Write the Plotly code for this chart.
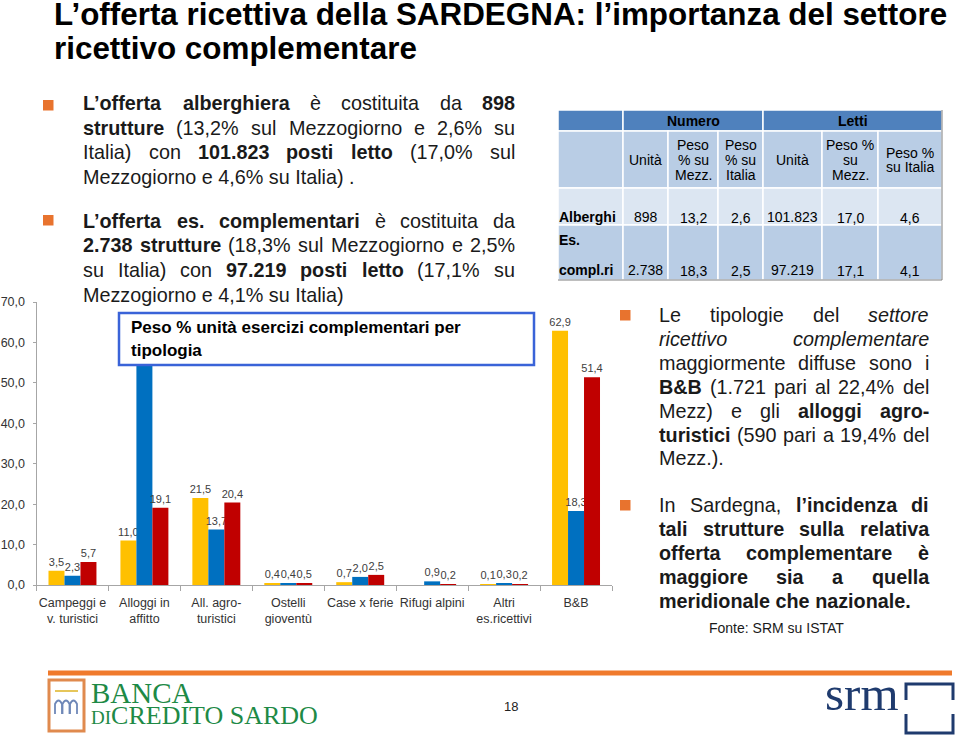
import plotly.graph_objects as go

W, H = 960, 740
def X(px): return px / W
def Y(py): return 1 - py / H

FONT = "Liberation Sans, Arial, sans-serif"
SERIF = "Liberation Serif, Times New Roman, serif"
TXT = "#1a1a1a"

# ---------------- chart data ----------------
categories = ["Campeggi e<br>v. turistici", "Alloggi in<br>affitto", "All. agro-<br>turistici",
              "Ostelli<br>gioventù", "Case x ferie", "Rifugi alpini", "Altri<br>es.ricettivi", "B&B"]
sardegna = [3.5, 11.0, 21.5, 0.4, 0.7, 0.0, 0.1, 62.9]
italia = [2.3, 62.1, 13.7, 0.4, 2.0, 0.9, 0.3, 18.3]
mezzogiorno = [5.7, 19.1, 20.4, 0.5, 2.5, 0.2, 0.2, 51.4]
series_names = ["Sardegna", "Italia", "Mezzogiorno"]
series_colors = ["#FFC000", "#0070C0", "#C00000"]
y_ticks = [0, 10, 20, 30, 40, 50, 60, 70]

# ---------------- table data ----------------
tab_rows = [["Alberghi"], ["Es.", "compl.ri"]]
tab_num_unita = ["898", "2.738"]
tab_num_mezz = [13.2, 18.3]
tab_num_italia = [2.6, 2.5]
tab_letti_unita = ["101.823", "97.219"]
tab_letti_mezz = [17.0, 17.1]
tab_letti_italia = [4.6, 4.1]
tab_groups = ["Numero", "Letti"]
tab_sub = [["Unità"], ["Peso", "% su", "Mezz."], ["Peso", "% su", "Italia"],
           ["Unità"], ["Peso %", "su", "Mezz."], ["Peso %", "su Italia"]]


def fmt(v):
    return f"{v:.1f}".replace(".", ",")


fig = go.Figure()
for name, vals, col in zip(series_names, [sardegna, italia, mezzogiorno], series_colors):
    fig.add_trace(go.Bar(
        x=categories, y=vals, name=name, marker_color=col, marker_line_width=0,
        text=[fmt(v) if v > 0 else "" for v in vals], textposition="outside",
        constraintext="none", cliponaxis=False,
        textfont=dict(size=11, color="#404040", family=FONT)))

fig.update_layout(
    width=W, height=H, margin=dict(l=0, r=0, t=0, b=0, pad=0, autoexpand=False),
    paper_bgcolor="white", plot_bgcolor="rgba(0,0,0,0)",
    showlegend=False, barmode="group", bargap=1/3, bargroupgap=0,
    separators=",.", font=dict(family=FONT, color=TXT),
    xaxis=dict(domain=[X(36.5), X(612)], showline=True, linecolor="#A6A6A6", linewidth=1,
               ticks="outside", tickson="boundaries", ticklen=5, tickcolor="#A6A6A6",
               tickangle=0, tickfont=dict(size=12.5, color="#333333"), showgrid=False,
               ticklabelstandoff=6, automargin=False),
    yaxis=dict(domain=[Y(585), Y(302)], range=[0, 70], tickvals=y_ticks, tickformat=".1f",
               showline=True, linecolor="#A6A6A6", ticks="outside", ticklen=3,
               tickcolor="#A6A6A6", tickfont=dict(size=12.5, color="#333333"),
               showgrid=False, zeroline=False, ticklabelstandoff=5, automargin=False),
)

shapes = []
ann = []


def text(x, y, t, size, color=TXT, xanchor="left", family=FONT, yanchor="middle"):
    ann.append(dict(x=X(x), y=Y(y), xref="paper", yref="paper", text=t, showarrow=False,
                    xanchor=xanchor, yanchor=yanchor, borderpad=0, borderwidth=0,
                    font=dict(size=size, color=color, family=family), align="left"))


# ---------------- font metrics (Arial / Liberation Sans) ----------------
REG = dict.fromkeys("0123456789", 556)
REG.update({' ': 278, '!': 278, '%': 889, '&': 667, '(': 333, ')': 333, ',': 278, '-': 333,
            '.': 278, '/': 278, ':': 278, ';': 278, '’': 222, 'è': 556, 'à': 556, 'ù': 556})
REG.update(dict(A=667, B=667, C=722, D=722, E=667, F=611, G=778, H=722, I=278, J=500, K=667,
                L=556, M=833, N=722, O=778, P=667, Q=778, R=722, S=667, T=611, U=722, V=667,
                W=944, X=667, Y=667, Z=611))
REG.update(dict(a=556, b=556, c=500, d=556, e=556, f=278, g=556, h=556, i=222, j=222, k=500,
                l=222, m=833, n=556, o=556, p=556, q=556, r=333, s=500, t=278, u=556, v=500,
                w=722, x=500, y=500, z=500))
BOLD = dict.fromkeys("0123456789", 556)
BOLD.update({' ': 278, '!': 333, '%': 889, '&': 722, '(': 333, ')': 333, ',': 278, '-': 333,
             '.': 278, '/': 278, ':': 333, ';': 333, '’': 278, 'è': 556, 'à': 556, 'ù': 611})
BOLD.update(dict(A=722, B=722, C=722, D=722, E=667, F=611, G=778, H=722, I=278, J=556, K=722,
                 L=611, M=833, N=722, O=778, P=667, Q=778, R=722, S=667, T=611, U=722, V=667,
                 W=944, X=667, Y=667, Z=611))
BOLD.update(dict(a=556, b=611, c=556, d=611, e=556, f=333, g=611, h=611, i=278, j=278, k=556,
                 l=278, m=889, n=611, o=611, p=611, q=611, r=389, s=556, t=333, u=611, v=556,
                 w=778, x=556, y=556, z=500))


def wwidth(word, style, size):
    tbl = BOLD if style == "b" else REG
    return sum(tbl.get(c, 556) for c in word) * size / 1000.0


def styled(word, style):
    if style == "b":
        return f"<b>{word}</b>"
    if style == "i":
        return f"<i>{word}</i>"
    return word


def paragraph(lines, x0, x1, y0, step, size):
    for k, segs in enumerate(lines):
        yc = y0 + k * step
        words = []
        for seg, st in segs:
            for w in seg.split(" "):
                if w:
                    words.append((w, st))
        last = (k == len(lines) - 1)
        if last or len(words) == 1:
            t = " ".join(styled(w, s) for w, s in words)
            text(x0, yc, t, size)
            continue
        widths = [wwidth(w, s, size) for w, s in words]
        gap = (x1 - x0 - sum(widths)) / (len(words) - 1)
        x = x0
        for (w, s), wd in zip(words, widths):
            text(x, yc, styled(w, s), size)
            x += wd + gap


BODY = 19.8
ORANGE = "#E8732E"

p1 = [[("L’offerta alberghiera", "b"), ("è costituita da", "r"), ("898", "b")],
      [("strutture", "b"), ("(13,2% sul Mezzogiorno e 2,6% su", "r")],
      [("Italia) con", "r"), ("101.823 posti letto", "b"), ("(17,0% sul", "r")],
      [("Mezzogiorno e 4,6% su Italia) .", "r")]]
p2 = [[("L’offerta es. complementari", "b"), ("è costituita da", "r")],
      [("2.738 strutture", "b"), ("(18,3% sul Mezzogiorno e 2,5%", "r")],
      [("su Italia) con", "r"), ("97.219 posti letto", "b"), ("(17,1% su", "r")],
      [("Mezzogiorno e 4,1% su Italia)", "r")]]
p3 = [[("Le tipologie del", "r"), ("settore", "i")],
      [("ricettivo complementare", "i")],
      [("maggiormente diffuse sono i", "r")],
      [("B&B", "b"), ("(1.721 pari al 22,4% del", "r")],
      [("Mezz) e gli", "r"), ("alloggi agro-", "b")],
      [("turistici", "b"), ("(590 pari a 19,4% del", "r")],
      [("Mezz.).", "r")]]
p4 = [[("In Sardegna,", "r"), ("l’incidenza di", "b")],
      [("tali strutture sulla relativa", "b")],
      [("offerta complementare è", "b")],
      [("maggiore sia a quella", "b")],
      [("meridionale che nazionale.", "b")]]

paragraph(p1, 83, 515, 103.5, 24.4, BODY)
paragraph(p2, 83, 515, 220.5, 24.8, BODY)
paragraph(p3, 659, 929, 315, 23.9, BODY)
paragraph(p4, 659, 929, 505, 24.0, BODY)

for bx, by in [(43, 100), (43, 215), (620, 310), (620, 500)]:
    shapes.append(dict(type="rect", xref="paper", yref="paper", x0=X(bx), x1=X(bx + 10.5),
                       y0=Y(by), y1=Y(by + 10.5), fillcolor=ORANGE, line=dict(width=0)))

text(776, 628, "Fonte: SRM su ISTAT", 14, xanchor="center")

# ---------------- title ----------------
text(54, 14, "<b>L’offerta ricettiva della SARDEGNA: l’importanza del settore</b>", 31.4, "#000000")
text(54, 49, "<b>ricettivo complementare</b>", 31.4, "#000000")

# ---------------- chart caption box ----------------
shapes.append(dict(type="rect", xref="paper", yref="paper", layer="above",
                   x0=X(119), x1=X(534), y0=Y(313), y1=Y(365),
                   fillcolor="white", line=dict(color="#3A63D8", width=2.5)))
text(131, 327, "<b>Peso % unità esercizi complementari per</b>", 17, "#000000")
text(131, 350, "<b>tipologia</b>", 17, "#000000")

# ---------------- table ----------------
cols_x = [558, 623, 668, 718, 763, 822, 878, 942]
rows_y = [110, 131, 188, 225, 280]
DARK, MID, LIGHT = "#4F81BD", "#B9CDE5", "#DCE6F2"


def cell(x0, x1, y0, y1, fill):
    shapes.append(dict(type="rect", xref="paper", yref="paper", x0=X(x0), x1=X(x1),
                       y0=Y(y0), y1=Y(y1), fillcolor=fill, line=dict(color="white", width=1.5)))


cell(cols_x[0], cols_x[1], rows_y[0], rows_y[1], DARK)
cell(cols_x[1], cols_x[4], rows_y[0], rows_y[1], DARK)
cell(cols_x[4], cols_x[7], rows_y[0], rows_y[1], DARK)
for r, fill in zip(range(1, 4), [MID, LIGHT, MID]):
    for c in range(7):
        cell(cols_x[c], cols_x[c + 1], rows_y[r], rows_y[r + 1], fill)
shapes.append(dict(type="path", xref="paper", yref="paper",
                   path=f"M {X(cols_x[0])},{Y(rows_y[4])} L {X(cols_x[7])},{Y(rows_y[4])} L {X(cols_x[7])},{Y(rows_y[0])}",
                   line=dict(color="#7F7F7F", width=1)))

text((cols_x[1] + cols_x[4]) / 2, 121, f"<b>{tab_groups[0]}</b>", 14, "#000000", xanchor="center")
text((cols_x[4] + cols_x[7]) / 2, 121, f"<b>{tab_groups[1]}</b>", 14, "#000000", xanchor="center")
for c, lines in enumerate(tab_sub):
    cx = (cols_x[c + 1] + cols_x[c + 2]) / 2
    n = len(lines)
    for i, ln in enumerate(lines):
        text(cx, 160 + (i - (n - 1) / 2) * 15, ln, 14, "#000000", xanchor="center")

row_vals = []
for r in range(2):
    row_vals.append([tab_num_unita[r], fmt(tab_num_mezz[r]), fmt(tab_num_italia[r]),
                     tab_letti_unita[r], fmt(tab_letti_mezz[r]), fmt(tab_letti_italia[r])])
row_base = [217, 270]
for r in range(2):
    lbl = tab_rows[r]
    for i, ln in enumerate(lbl):
        text(559, row_base[r] - (len(lbl) - 1 - i) * 30, f"<b>{ln}</b>", 14, "#000000")
    for c, v in enumerate(row_vals[r]):
        cx = (cols_x[c + 1] + cols_x[c + 2]) / 2
        text(cx, row_base[r] + (1 if c in (1, 2, 4, 5) else 0), v, 14, "#000000", xanchor="center")

# ---------------- footer ----------------
shapes.append(dict(type="line", xref="paper", yref="paper", x0=X(48), x1=X(952), y0=Y(673), y1=Y(673),
                   line=dict(color="#F07A2C", width=5)))
# Banca di Credito Sardo logo
shapes.append(dict(type="rect", xref="paper", yref="paper", x0=X(49), x1=X(84), y0=Y(680), y1=Y(731),
                   line=dict(color="#E08A4E", width=3), fillcolor="white"))
shapes.append(dict(type="line", xref="paper", yref="paper", x0=X(55), x1=X(78), y0=Y(691), y1=Y(691),
                   line=dict(color="#E6C65A", width=2)))
for ax in [55, 62.5, 70]:
    shapes.append(dict(type="path", xref="paper", yref="paper",
                       path=f"M {X(ax)},{Y(714)} L {X(ax)},{Y(704)} Q {X(ax + 3.5)},{Y(697)} {X(ax + 7)},{Y(704)} L {X(ax + 7)},{Y(714)}",
                       line=dict(color="#6F88B8", width=1.8)))
text(91, 693, "BANCA", 29, "#1E8A46", family=SERIF)
text(91, 715, "<span style='font-size:19px'>DI</span>CREDITO SARDO", 26, "#1E8A46", family=SERIF)
text(511, 706, "18", 13, "#222222", xanchor="center")
# SRM logo
NAVY = "#1F3B6E"
text(825, 693, "srm", 49, NAVY, family=SERIF)
shapes.append(dict(type="path", xref="paper", yref="paper",
                   path=f"M {X(906)},{Y(700)} L {X(906)},{Y(684)} L {X(953)},{Y(684)} L {X(953)},{Y(700)}",
                   line=dict(color=NAVY, width=3)))
shapes.append(dict(type="path", xref="paper", yref="paper",
                   path=f"M {X(906)},{Y(714)} L {X(906)},{Y(733)} L {X(953)},{Y(733)} L {X(953)},{Y(714)}",
                   line=dict(color=NAVY, width=3)))

fig.update_layout(shapes=shapes, annotations=ann)
page_js = ("var gd=document.getElementById('{plot_id}');"
           "gd.style.position='absolute';gd.style.top='0px';gd.style.left='0px';"
           "document.body.style.margin='0px';document.body.style.overflow='hidden';"
           "document.documentElement.style.overflow='hidden';")
fig.write_html("out.html", config={"displayModeBar": False}, post_script=page_js)
